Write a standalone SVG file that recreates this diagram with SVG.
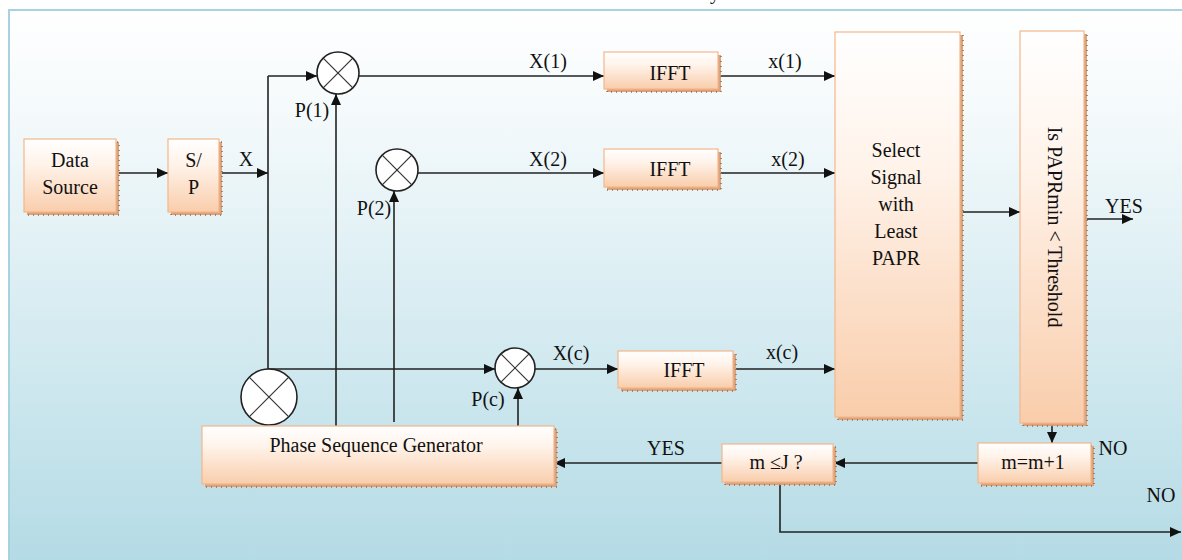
<svg xmlns="http://www.w3.org/2000/svg" width="1182" height="560" viewBox="0 0 1182 560">
<style>
.t{font-family:"Liberation Serif","Times New Roman",serif;font-size:20px;fill:#111;}
.m{text-anchor:middle;}
.box{fill:url(#boxg);stroke:#f5b68a;stroke-width:1.2;}
.sh{fill:#d9a47d;stroke:#9c6942;stroke-width:1.5;stroke-dasharray:1 4;}
.ln{fill:none;stroke:#222;stroke-width:1.6;}
.arr{fill:none;stroke:#222;stroke-width:1.6;marker-end:url(#ah);}
.cir{fill:#fff;stroke:#222;stroke-width:1.6;}
.cx{stroke:#333;stroke-width:1.2;}
</style>
<defs>
<linearGradient id="bg" x1="0" y1="0" x2="0" y2="1">
<stop offset="0" stop-color="#ffffff"/>
<stop offset="0.2" stop-color="#f3f9fb"/>
<stop offset="0.6" stop-color="#d3eaf0"/>
<stop offset="1" stop-color="#b3dae5"/>
</linearGradient>
<linearGradient id="boxg" x1="0" y1="0" x2="0" y2="1">
<stop offset="0" stop-color="#ffffff"/>
<stop offset="0.35" stop-color="#fff3ea"/>
<stop offset="1" stop-color="#f9cdab"/>
</linearGradient>
<marker id="ah" markerUnits="userSpaceOnUse" markerWidth="12" markerHeight="10" refX="11" refY="5" orient="auto">
<path d="M0,0 L11,5 L0,10 Z" fill="#111"/>
</marker>
</defs>
<rect x="0" y="0" width="1182" height="560" fill="#ffffff"/>
<text class="t" x="710" y="-1">y</text>
<rect x="9" y="10" width="1180" height="560" fill="url(#bg)" stroke="#a7d2df" stroke-width="2"/>

<g id="connectors">
<line class="arr" x1="116" y1="173" x2="168" y2="173"/>
<line class="arr" x1="219" y1="173" x2="268" y2="173"/>
<polyline class="ln" points="268,369 268,76"/>
<line class="arr" x1="268" y1="76" x2="317" y2="76"/>
<line class="arr" x1="359" y1="76" x2="604" y2="76"/>
<line class="arr" x1="718" y1="76" x2="835" y2="76"/>
<line class="arr" x1="418" y1="173" x2="604" y2="173"/>
<line class="arr" x1="718" y1="173" x2="835" y2="173"/>
<line class="arr" x1="268" y1="369" x2="495" y2="369"/>
<line class="arr" x1="535" y1="369" x2="618" y2="369"/>
<line class="arr" x1="733" y1="369" x2="835" y2="369"/>
<line class="arr" x1="336" y1="426" x2="336" y2="94"/>
<line class="arr" x1="394" y1="422" x2="394" y2="191"/>
<line class="arr" x1="518" y1="426" x2="518" y2="388"/>
<line class="arr" x1="960" y1="212" x2="1020" y2="212"/>
<line class="arr" x1="1084" y1="219" x2="1133" y2="219"/>
<line class="arr" x1="1052" y1="423" x2="1052" y2="443"/>
<line class="arr" x1="978" y1="463" x2="834" y2="463"/>
<line class="arr" x1="722" y1="463" x2="554" y2="463"/>
<polyline class="arr" points="780,483 780,532 1181,532"/>
</g>

<g id="labels">
<text class="t m" x="246" y="166">X</text>
<text class="t m" x="548" y="68">X(1)</text>
<text class="t m" x="785" y="68">x(1)</text>
<text class="t m" x="548" y="166">X(2)</text>
<text class="t m" x="788" y="166">x(2)</text>
<text class="t m" x="571" y="360">X(c)</text>
<text class="t m" x="782" y="359">x(c)</text>
<text class="t m" x="312" y="117">P(1)</text>
<text class="t m" x="374" y="215">P(2)</text>
<text class="t m" x="488" y="406">P(c)</text>
<text class="t m" x="1124" y="213">YES</text>
<text class="t m" x="666" y="455">YES</text>
<text class="t m" x="1113" y="455">NO</text>
<text class="t m" x="1161" y="502">NO</text>
</g>

<g id="data-source">
<rect class="sh" x="27" y="142" width="92" height="73"/>
<rect class="box" x="24" y="139" width="92" height="73"/>
<text class="t m" x="70" y="167">Data</text>
<text class="t m" x="70" y="194">Source</text>
</g>

<g id="sp">
<rect class="sh" x="171" y="142" width="51" height="73"/>
<rect class="box" x="168" y="139" width="51" height="73"/>
<text class="t m" x="193.5" y="167">S/</text>
<text class="t m" x="193.5" y="194">P</text>
</g>

<g id="mult-1">
<circle class="cir" cx="338" cy="73" r="21"/>
<line class="cx" x1="323.2" y1="58.2" x2="352.8" y2="87.8"/>
<line class="cx" x1="352.8" y1="58.2" x2="323.2" y2="87.8"/>
</g>

<g id="mult-2">
<circle class="cir" cx="397" cy="170" r="21"/>
<line class="cx" x1="382.2" y1="155.2" x2="411.8" y2="184.8"/>
<line class="cx" x1="411.8" y1="155.2" x2="382.2" y2="184.8"/>
</g>

<g id="mult-c">
<circle class="cir" cx="515" cy="368" r="20"/>
<line class="cx" x1="500.9" y1="353.9" x2="529.1" y2="382.1"/>
<line class="cx" x1="529.1" y1="353.9" x2="500.9" y2="382.1"/>
</g>

<g id="mult-big">
<circle class="cir" cx="269" cy="397" r="28"/>
<line class="cx" x1="249.2" y1="377.2" x2="288.8" y2="416.8"/>
<line class="cx" x1="288.8" y1="377.2" x2="249.2" y2="416.8"/>
</g>

<g id="ifft-1">
<rect class="sh" x="607" y="55" width="114" height="37"/>
<rect class="box" x="604" y="52" width="114" height="37"/>
<text class="t m" x="670" y="80">IFFT</text>
</g>

<g id="ifft-2">
<rect class="sh" x="607" y="152" width="114" height="38"/>
<rect class="box" x="604" y="149" width="114" height="38"/>
<text class="t m" x="670" y="176">IFFT</text>
</g>

<g id="ifft-c">
<rect class="sh" x="621" y="354" width="115" height="37"/>
<rect class="box" x="618" y="351" width="115" height="37"/>
<text class="t m" x="684" y="377">IFFT</text>
</g>

<g id="select">
<rect class="sh" x="838" y="35" width="125" height="385"/>
<rect class="box" x="835" y="32" width="125" height="385"/>
<text class="t m" x="896" y="157">Select</text>
<text class="t m" x="896" y="184">Signal</text>
<text class="t m" x="896" y="211">with</text>
<text class="t m" x="896" y="238">Least</text>
<text class="t m" x="896" y="265">PAPR</text>
</g>

<g id="threshold">
<rect class="sh" x="1023" y="34" width="64" height="392"/>
<rect class="box" x="1020" y="31" width="64" height="392"/>
<text class="t m" transform="translate(1048,227) rotate(90)" x="0" y="0">Is PAPRmin &lt; Threshold</text>
</g>

<g id="phase-gen">
<rect class="sh" x="205" y="429" width="352" height="58"/>
<rect class="box" x="202" y="426" width="352" height="58"/>
<text class="t m" x="376" y="452">Phase Sequence Generator</text>
</g>

<g id="m-check">
<rect class="sh" x="725" y="447" width="111" height="38"/>
<rect class="box" x="722" y="444" width="111" height="38"/>
<text class="t m" x="776" y="469">m ≤J ?</text>
</g>

<g id="m-inc">
<rect class="sh" x="981" y="446" width="113" height="40"/>
<rect class="box" x="978" y="443" width="113" height="40"/>
<text class="t m" x="1033" y="469">m=m+1</text>
</g>
</svg>
